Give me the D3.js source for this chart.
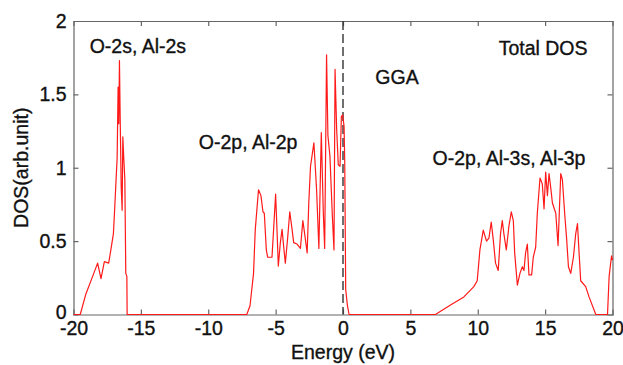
<!DOCTYPE html>
<html>
<head>
<meta charset="utf-8">
<script src="https://cdn.jsdelivr.net/npm/d3@7"></script>
<style>
  html, body { margin: 0; padding: 0; background: #fff; }
  svg { display: block; }
  text { font-family: "Liberation Sans", Arial, Helvetica, sans-serif; fill: #111; stroke: #111; stroke-width: 0.35px; }
</style>
</head>
<body>
<svg id="chart" width="623" height="365"></svg>
<script>
// ---- data ----
const energy = [
  -20, -19.5, -19.08, -18.58, -18.21, -17.96, -17.71, -17.39, -17.21, -17.04,
  -16.96, -16.84, -16.76, -16.69, -16.64, -16.59, -16.54, -16.46, -16.39, -16.34,
  -16.26, -16.19, -16.12, -16.04, -16.02,
  -7.14, -6.9, -6.64, -6.51, -6.27, -6.09, -5.94, -5.84, -5.69, -5.59,
  -5.27, -5.15, -5.0, -4.9, -4.8, -4.65, -4.52, -4.4, -4.28, -4.1,
  -3.95, -3.78, -3.66, -3.41, -3.16, -2.98, -2.86, -2.66, -2.54, -2.41,
  -2.16, -1.96, -1.79, -1.61, -1.46, -1.36, -1.22, -1.12, -0.97, -0.79,
  -0.67, -0.59, -0.47, -0.35, -0.22, -0.12, -0.02, 0.08, 0.13, 0.2,
  0.33, 0.45,
  6.86, 7.98, 8.97, 9.71, 9.96, 10.16, 10.41, 10.65, 10.83, 11.0,
  11.15, 11.32, 11.52, 11.69, 11.82, 11.94, 12.12, 12.31, 12.49, 12.64,
  12.74, 12.94, 13.13, 13.31, 13.43, 13.55, 13.68, 13.8, 14.0, 14.12,
  14.3, 14.42, 14.62, 14.79, 14.92, 15.04, 15.17, 15.29, 15.41, 15.54,
  15.79, 15.96, 16.16, 16.28, 16.45, 16.6, 16.73, 16.9, 17.1, 17.27,
  17.4, 17.52, 17.64, 18.01, 18.26, 18.76, 19.63, 19.75, 19.93, 20
];
const dos = [
  0, 0, 0.14, 0.26, 0.35, 0.245, 0.36, 0.35, 0.45, 0.55,
  0.69, 0.92, 1.07, 1.55, 1.3, 1.73, 1.37, 0.87, 0.71, 1.21,
  1.05, 0.92, 0.28, 0.26, 0,
  0, 0.06, 0.28, 0.58, 0.85, 0.81, 0.70, 0.69, 0.44, 0.39,
  0.39, 0.58, 0.82, 0.58, 0.33, 0.49, 0.58, 0.46, 0.35, 0.53,
  0.70, 0.58, 0.49, 0.48, 0.45, 0.64, 0.56, 0.42, 0.76, 1.01,
  1.17, 0.85, 0.45, 1.24, 0.69, 0.45, 1.77, 1.22, 1.08, 0.67,
  0.44, 1.67, 1.26, 1.02, 1.01, 1.35, 1.36, 1.28, 1.03, 0.17,
  0.06, 0,
  0, 0.064, 0.12, 0.19, 0.23, 0.44, 0.575, 0.50, 0.52, 0.63,
  0.51, 0.35, 0.30, 0.55, 0.64, 0.55, 0.44, 0.60, 0.70, 0.64,
  0.42, 0.20, 0.28, 0.325, 0.30, 0.42, 0.48, 0.27, 0.27, 0.39,
  0.46, 0.69, 0.93, 0.89, 0.72, 0.97, 0.81, 0.96, 0.87, 0.76,
  0.69, 0.47, 0.96, 0.92, 0.69, 0.51, 0.325, 0.28, 0.39, 0.55,
  0.62, 0.42, 0.23, 0.19, 0.12, 0, 0, 0.26, 0.40, 0.37
];
const xTicks = [-20, -15, -10, -5, 0, 5, 10, 15, 20];
const xTickLabels = ["-20", "-15", "-10", "-5", "0", "5", "10", "15", "20"];
const yTicks = [0, 0.5, 1, 1.5, 2];
const yTickLabels = ["0", "0.5", "1", "1.5", "2"];
const annotations = [
  { text: "O-2s, Al-2s", e: -18.8, d: 1.78 },
  { text: "O-2p, Al-2p", e: -10.7, d: 1.13 },
  { text: "GGA", e: 2.4, d: 1.57 },
  { text: "Total DOS", e: 11.55, d: 1.77 },
  { text: "O-2p, Al-3s, Al-3p", e: 6.65, d: 1.02 }
];
const xLabel = "Energy (eV)";
const yLabel = "DOS(arb.unit)";

// ---- layout ----
const W = 623, H = 365;
const margin = { left: 73.5, right: 10.5, top: 21, bottom: 50.5 };
const svg = d3.select("#chart");
const x = d3.scaleLinear().domain([-20, 20]).range([margin.left, W - margin.right]);
const y = d3.scaleLinear().domain([0, 2]).range([H - margin.bottom, margin.top]);
const FS = 19.5;
const frameColor = "#666";

// frame + inward ticks on all four sides
const gB = svg.append("g").attr("transform", `translate(0,${y(0)})`)
  .call(d3.axisBottom(x).tickValues(xTicks).tickSize(-5).tickPadding(6.5).tickFormat((d, i) => xTickLabels[i]));
const gT = svg.append("g").attr("transform", `translate(0,${y(2)})`)
  .call(d3.axisTop(x).tickValues(xTicks).tickSize(-5).tickFormat(""));
const gL = svg.append("g").attr("transform", `translate(${x(-20)},0)`)
  .call(d3.axisLeft(y).tickValues(yTicks).tickSize(-5).tickPadding(7).tickFormat((d, i) => yTickLabels[i]));
const gR = svg.append("g").attr("transform", `translate(${x(20)},0)`)
  .call(d3.axisRight(y).tickValues(yTicks).tickSize(-5).tickFormat(""));
[gB, gT, gL, gR].forEach(g => {
  g.select(".domain").attr("stroke", frameColor).attr("stroke-width", 1.2);
  g.selectAll(".tick line").attr("stroke", frameColor).attr("stroke-width", 1.2);
  g.selectAll(".tick text").attr("font-size", FS).attr("fill", "#111")
    .attr("font-family", "'Liberation Sans', Arial, Helvetica, sans-serif");
});
// hide end ticks that overlap the frame corners
[gB, gT].forEach(g => g.selectAll(".tick line").filter(d => d === -20 || d === 20).remove());
[gL, gR].forEach(g => g.selectAll(".tick line").filter(d => d === 0 || d === 2).remove());
// the y "0" label sits a touch above the axis in the reference
gL.selectAll(".tick text").filter(d => d === 0).attr("dy", "0.2em");

// Fermi level dashed line
svg.append("line")
  .attr("x1", x(0)).attr("x2", x(0)).attr("y1", y(2)).attr("y2", y(0))
  .attr("stroke", "#333").attr("stroke-width", 1.4).attr("stroke-dasharray", "9,4");

// DOS curve
const pts = energy.map((e, i) => [e, dos[i]]);
svg.append("path")
  .datum(pts)
  .attr("fill", "none")
  .attr("stroke", "#ff1a1a")
  .attr("stroke-width", 1.2)
  .attr("stroke-linejoin", "round")
  .attr("d", d3.line().x(d => x(d[0])).y(d => y(d[1])));

// annotations
svg.selectAll("text.ann").data(annotations).enter().append("text")
  .attr("class", "ann")
  .attr("x", d => x(d.e)).attr("y", d => y(d.d))
  .attr("font-size", FS)
  .text(d => d.text);

// axis labels
svg.append("text")
  .attr("x", (x(-20) + x(20)) / 2).attr("y", 359)
  .attr("text-anchor", "middle").attr("font-size", FS)
  .text(xLabel);
svg.append("text")
  .attr("transform", `translate(28,${(y(0) + y(2)) / 2}) rotate(-90)`)
  .attr("text-anchor", "middle").attr("font-size", FS)
  .text(yLabel);
</script>
</body>
</html>
